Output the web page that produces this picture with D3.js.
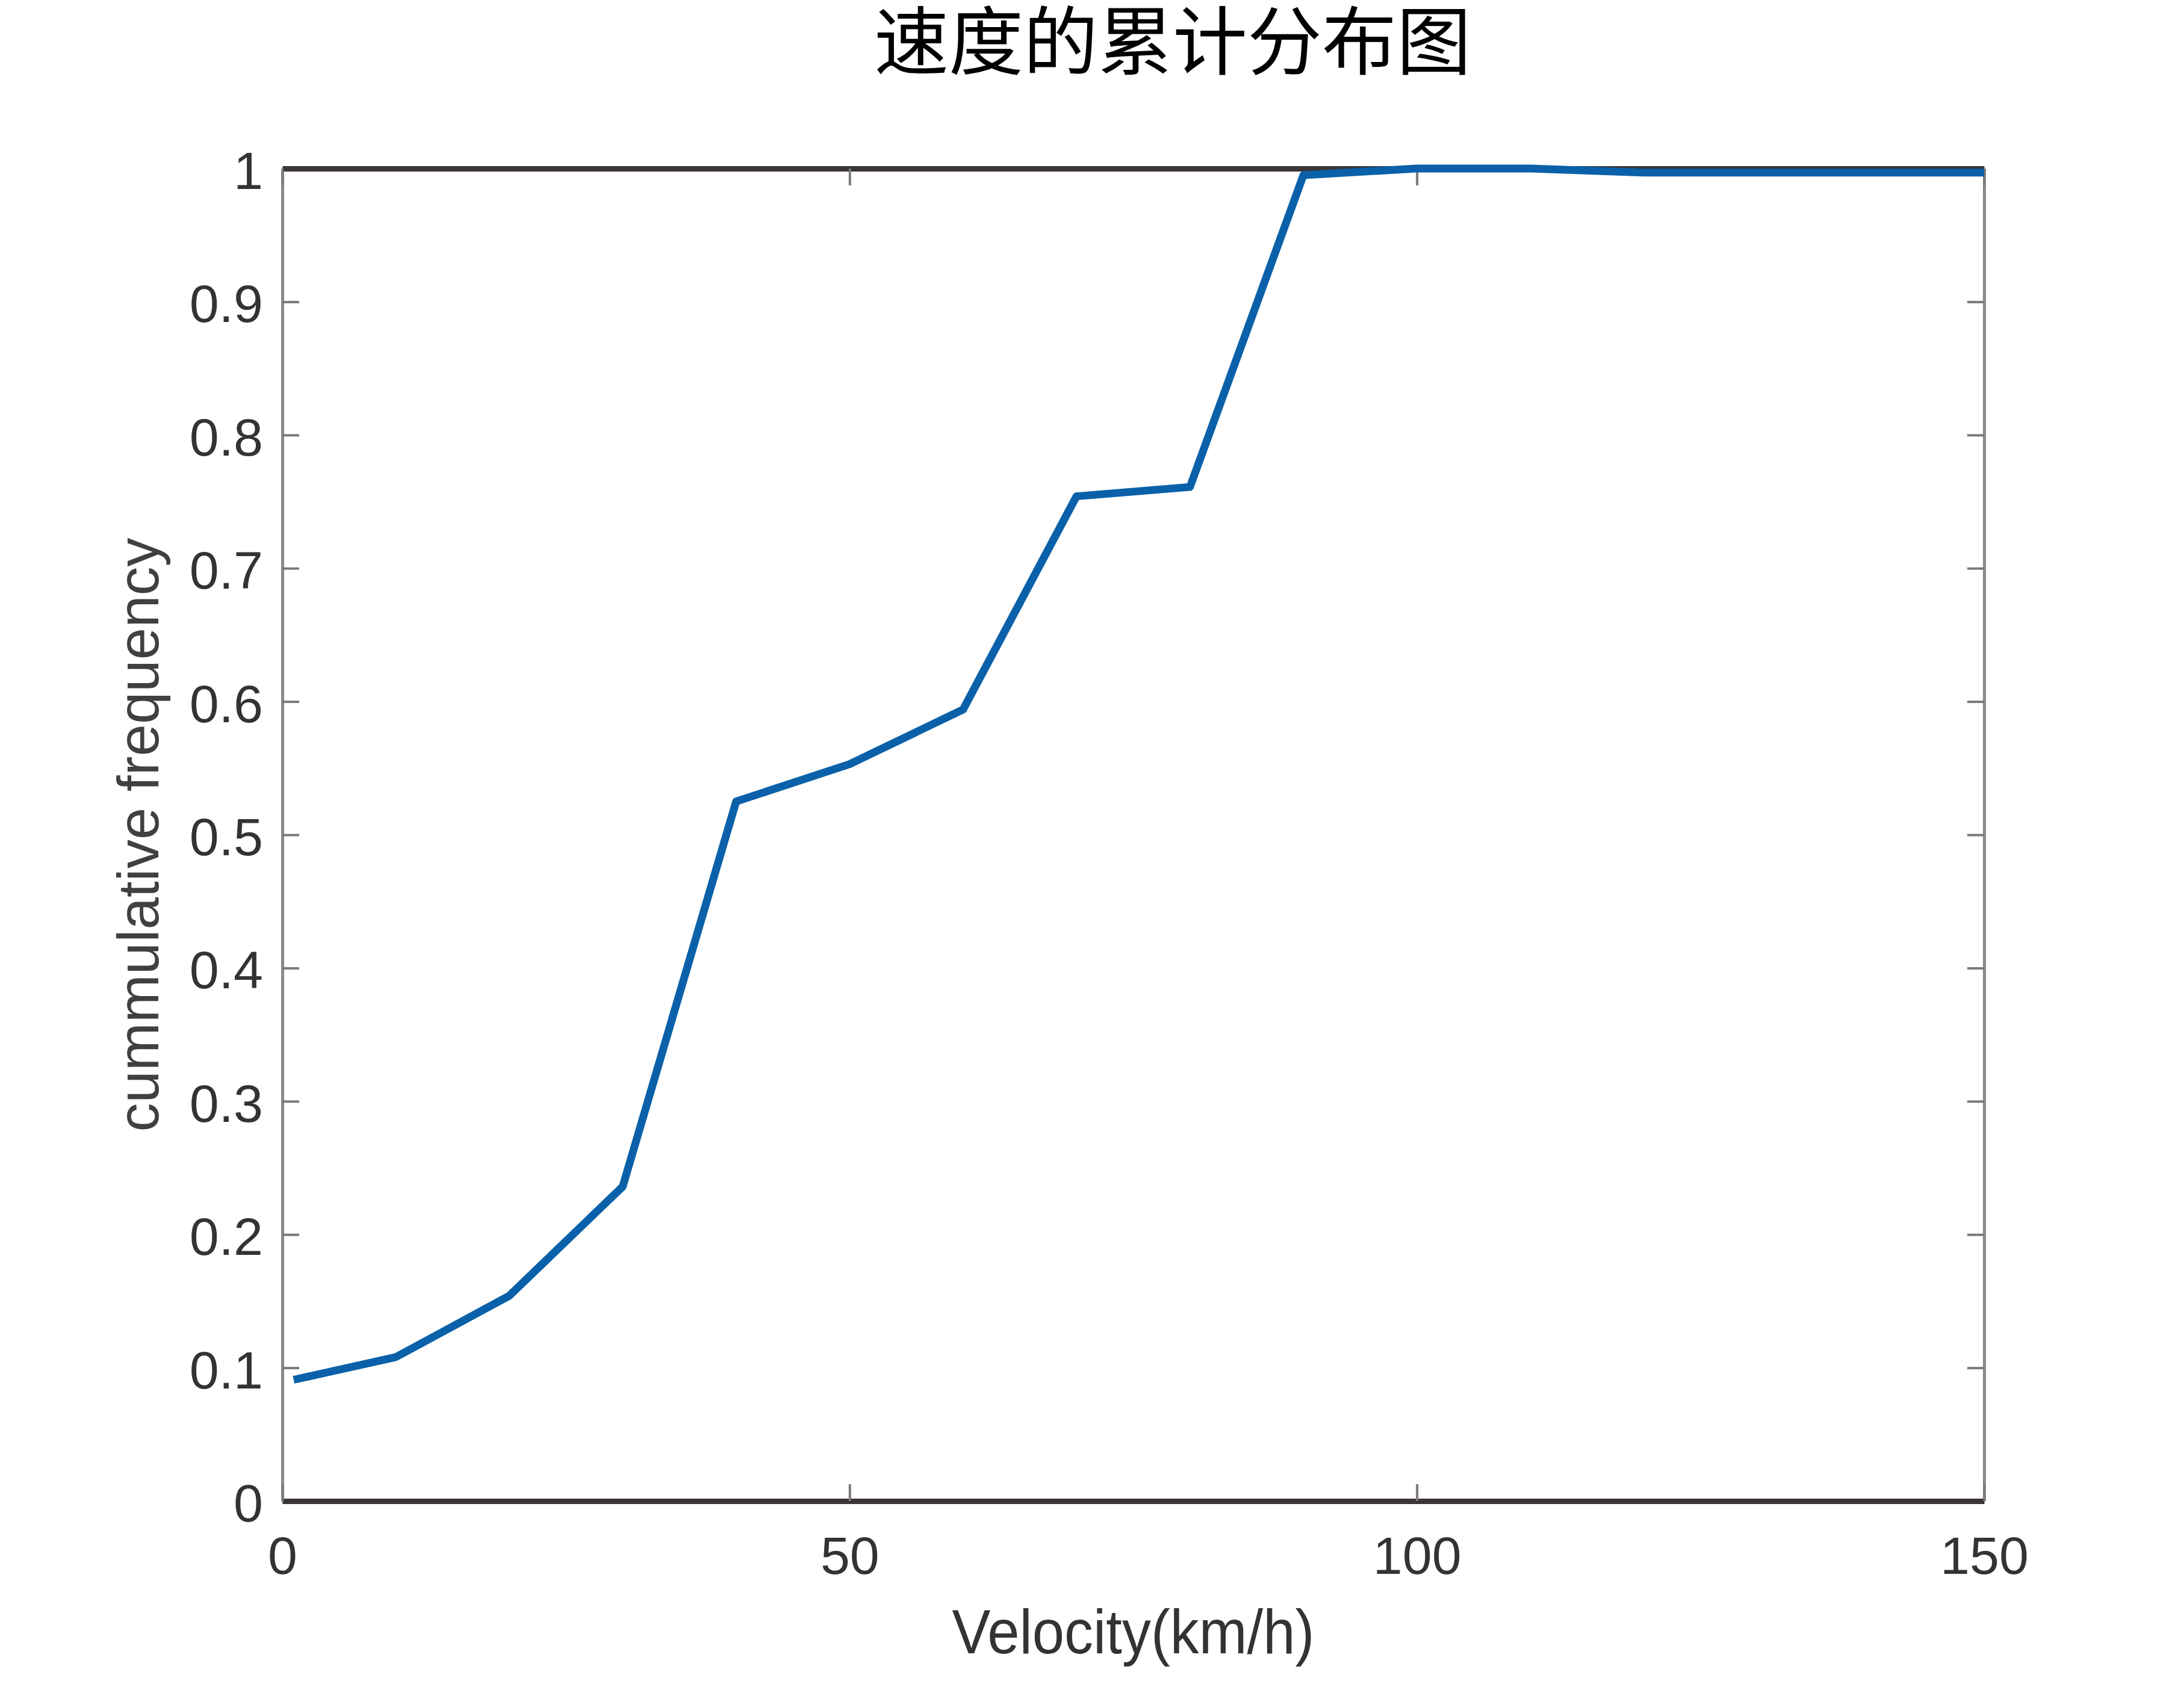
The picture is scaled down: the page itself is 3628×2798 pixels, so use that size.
<!DOCTYPE html>
<html lang="zh">
  <head>
    <meta charset="utf-8">
    <title>速度的累计分布图</title>
    <style>
      body { margin: 0; background: #fff; }
    </style>
  </head>
  <body>

<script src="https://d3js.org/d3.v7.min.js"></script>

<script>

// data
var velocity = [1, 10, 20, 30, 40, 50, 60, 70, 80, 90, 100, 110, 120, 130, 140, 150];
var cumFreq = [0.091, 0.108, 0.154, 0.236, 0.525, 0.553, 0.594, 0.754, 0.761, 0.995, 1.0, 1.0, 0.997, 0.997, 0.997, 0.997];

var xTicks = [0, 50, 100, 150];
var yTicks = [0, 0.1, 0.2, 0.3, 0.4, 0.5, 0.6, 0.7, 0.8, 0.9, 1];

var titleText = "速度的累计分布图";
var xLabel = "Velocity(km/h)";
var yLabel = "cummulative frequency";

var W = 3628, H = 2798;
// plot box (window.top is read-only, so no plain "top")
var plotL = 469, plotR = 3296, plotT = 280, plotB = 2494;

var svg = d3.select("body").append("svg")
            .attr("width", W)
            .attr("height", H);

var x = d3.scaleLinear().domain([0, 150]).range([plotL, plotR]);
var y = d3.scaleLinear().domain([0, 1]).range([plotB, plotT]);

var tickFont = "'Liberation Sans', Arial, sans-serif";
var fmtY = function(d) { return d === 0 || d === 1 ? String(d) : d.toFixed(1); };

// left axis
var gLeft = svg.append("g")
               .attr("transform", "translate(" + plotL + ",0)")
               .call(d3.axisLeft(y).tickValues(yTicks).tickFormat(fmtY)
                       .tickSizeInner(-28).tickSizeOuter(0).tickPadding(32));

// right axis
var gRight = svg.append("g")
                .attr("transform", "translate(" + plotR + ",0)")
                .call(d3.axisRight(y).tickValues(yTicks).tickFormat("")
                        .tickSizeInner(-28).tickSizeOuter(0));

// bottom axis
var gBottom = svg.append("g")
                 .attr("transform", "translate(0," + plotB + ")")
                 .call(d3.axisBottom(x).tickValues(xTicks).tickFormat(d3.format("d"))
                         .tickSizeInner(-28).tickSizeOuter(0).tickPadding(59));

// top axis
var gTop = svg.append("g")
              .attr("transform", "translate(0," + plotT + ")")
              .call(d3.axisTop(x).tickValues(xTicks).tickFormat("")
                      .tickSizeInner(-28).tickSizeOuter(0));

[gLeft, gRight].forEach(function(g) {
  g.select(".domain").attr("stroke", "#8a8a8a").attr("stroke-width", 5);
});
[gTop, gBottom].forEach(function(g) {
  g.select(".domain").attr("stroke", "#3b3535").attr("stroke-width", 9);
});
[gLeft, gRight, gTop, gBottom].forEach(function(g) {
  g.selectAll(".tick line").attr("stroke", "#7a7a7a").attr("stroke-width", 4);
  g.selectAll(".tick text")
   .attr("fill", "#333")
   .style("font-family", tickFont)
   .style("font-size", "88px");
});
gLeft.selectAll(".tick text").attr("dy", "0.38em");

// line
var line = d3.line()
             .x(function(d, i) { return x(velocity[i]); })
             .y(function(d) { return y(d); });

svg.append("path")
   .datum(cumFreq)
   .attr("d", line)
   .attr("fill", "none")
   .attr("stroke", "#0a61a9")
   .attr("stroke-width", 13)
   .attr("stroke-linejoin", "round");

// labels
svg.append("text")
   .attr("x", (plotL + plotR) / 2)
   .attr("y", 2747)
   .attr("text-anchor", "middle")
   .attr("textLength", 602)
   .attr("lengthAdjust", "spacingAndGlyphs")
   .attr("fill", "#333")
   .style("font-family", tickFont)
   .style("font-size", "103px")
   .text(xLabel);

svg.append("text")
   .attr("transform", "translate(263," + (plotT + plotB) / 2 + ") rotate(-90)")
   .attr("text-anchor", "middle")
   .attr("fill", "#404040")
   .style("font-family", tickFont)
   .style("font-size", "96px")
   .text(yLabel);

// title
svg.append("text")
   .attr("x", 1948)
   .attr("y", 114)
   .attr("text-anchor", "middle")
   .attr("fill", "#000")
   .style("font-family", "'Noto Sans CJK SC', sans-serif")
   .style("font-size", "124px")
   .text(titleText);

</script>

  </body>
</html>
